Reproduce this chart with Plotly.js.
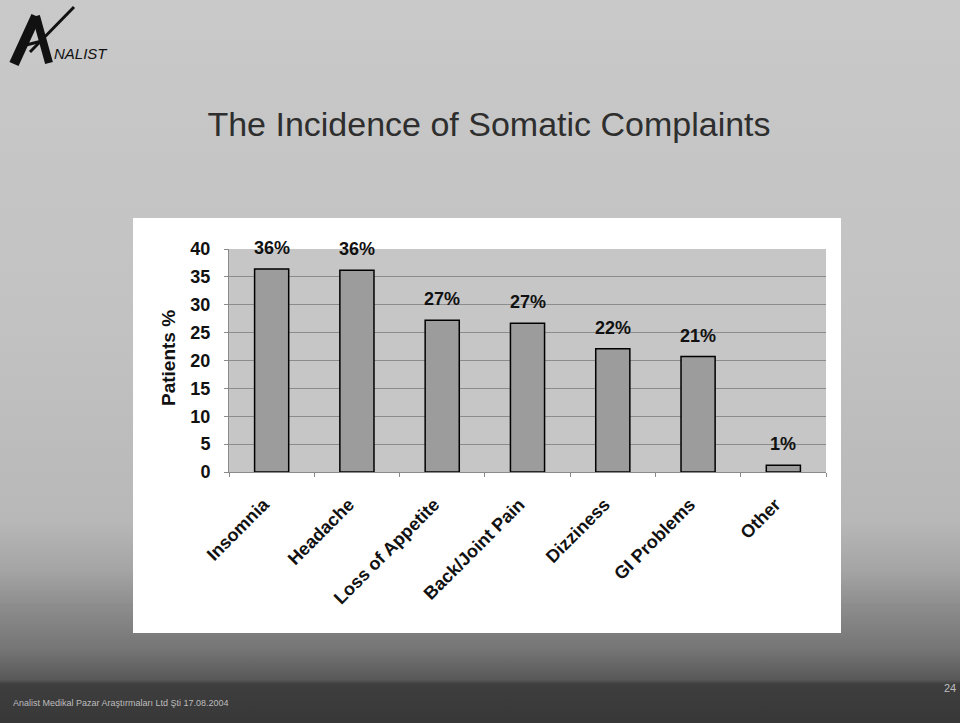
<!DOCTYPE html>
<html>
<head>
<meta charset="utf-8">
<script src="https://cdn.plot.ly/plotly-3.0.1.min.js"></script>
<style>
  html, body { margin: 0; padding: 0; width: 960px; height: 723px; overflow: hidden; }
  body {
    position: relative;
    background: linear-gradient(to bottom,
      #c9c9c9 0%, #c2c2c2 45%, #b8b8b8 72%, #a4a4a4 79%,
      #8c8c8c 84%, #747474 90%, #585858 94%, #3e3e3e 94.6%, #383838 100%);
  }
  #panel { position: absolute; left: 133px; top: 218px; width: 708px; height: 415px; background: #ffffff; }
  #chart { position: absolute; left: 0; top: 0; width: 960px; height: 723px; }
</style>
</head>
<body>
<div id="panel"></div>
<div id="chart"></div>
<script>
// ---- data ----
const categories = ['Insomnia', 'Headache', 'Loss of Appetite', 'Back/Joint Pain', 'Dizziness', 'GI Problems', 'Other'];
const values = [36.4, 36.2, 27.2, 26.7, 22.1, 20.7, 1.2];
const valueLabels = ['36%', '36%', '27%', '27%', '22%', '21%', '1%'];
const yTickValues = [0, 5, 10, 15, 20, 25, 30, 35, 40];
const yTickLabels = ['0', '5', '10', '15', '20', '25', '30', '35', '40'];
const yAxisTitle = 'Patients %';
const chartTitle = 'The Incidence of Somatic Complaints';
const logoText = 'NALIST';
const footerText = 'Analist Medikal Pazar Araştırmaları Ltd Şti 17.08.2004';
const pageNumber = '24';

// ---- layout geometry (pixels) ----
const W = 960, H = 723;
const plotL = 229, plotR = 826, plotT = 249, plotB = 472;
const px = x => (x - plotL) / (plotR - plotL);
const py = y => (plotB - y) / (plotB - plotT);
const FONT = 'Liberation Sans, Arial, sans-serif';

const trace = {
  type: 'bar',
  x: categories,
  y: values,
  marker: { color: '#9c9c9c', line: { color: '#000000', width: 1.5 } },
  hoverinfo: 'x+y'
};

const annotations = categories.map((c, i) => ({
  x: c, y: values[i], xref: 'x', yref: 'y',
  text: valueLabels[i], showarrow: false,
  yanchor: 'bottom', yshift: 9,
  font: { family: FONT, size: 18, color: '#111111', weight: 'bold' }
}));

annotations.push({
  xref: 'paper', yref: 'paper', x: px(168), y: py(358),
  text: '<b>' + yAxisTitle + '</b>', textangle: -90, showarrow: false,
  xanchor: 'center', yanchor: 'middle',
  font: { family: FONT, size: 19, color: '#111111' }
});

// logo text
annotations.push({
  xref: 'paper', yref: 'paper', x: px(52), y: py(64),
  text: '<i>' + logoText + '</i>', showarrow: false,
  xanchor: 'left', yanchor: 'bottom',
  font: { family: FONT, size: 15, color: '#111111' }
});

// footer
annotations.push({
  xref: 'paper', yref: 'paper', x: px(11), y: py(703),
  text: footerText, showarrow: false,
  xanchor: 'left', yanchor: 'middle',
  font: { family: FONT, size: 9, color: '#bdbdbd' }
});
annotations.push({
  xref: 'paper', yref: 'paper', x: px(958), y: py(688),
  text: pageNumber, showarrow: false,
  xanchor: 'right', yanchor: 'middle',
  font: { family: FONT, size: 11, color: '#bdbdbd' }
});

const logoLine = (x0, y0, x1, y1, w) => ({
  type: 'line', xref: 'paper', yref: 'paper',
  x0: px(x0), y0: py(y0), x1: px(x1), y1: py(y1),
  line: { color: '#111111', width: w }
});

const shapes = [
  logoLine(14, 64, 36, 16, 10),
  logoLine(36, 16, 49, 63, 8),
  logoLine(30, 52, 74, 7, 3),
  logoLine(22, 46, 46, 40, 3),
  // thin separator line in lower background
  { type: 'line', xref: 'paper', yref: 'paper', x0: px(0), x1: px(133), y0: py(605), y1: py(605),
    line: { color: '#8a8a8a', width: 1 } },
  { type: 'line', xref: 'paper', yref: 'paper', x0: px(841), x1: px(960), y0: py(605), y1: py(605),
    line: { color: '#8a8a8a', width: 1 } }
];

const layout = {
  width: W, height: H,
  margin: { l: plotL, r: W - plotR, t: plotT, b: H - plotB, pad: 0 },
  paper_bgcolor: 'rgba(0,0,0,0)',
  plot_bgcolor: '#c6c6c6',
  showlegend: false,
  bargap: 0.6,
  title: {
    text: chartTitle,
    x: 489 / W, xref: 'container', xanchor: 'center',
    y: 1 - 124 / H, yref: 'container', yanchor: 'middle',
    font: { family: FONT, size: 34, color: '#2e2e2e' }
  },
  xaxis: {
    type: 'category',
    tickangle: -45,
    tickson: 'boundaries',
    ticks: 'outside', ticklen: 4, tickcolor: '#8a8a8a',
    ticklabelstandoff: 14,
    ticklabelshift: -8,
    showline: true, linecolor: '#8a8a8a', linewidth: 1,
    showgrid: false,
    tickfont: { family: FONT, size: 18, color: '#111111', weight: 'bold' },
    fixedrange: true
  },
  yaxis: {
    range: [0, 40],
    tickmode: 'array', tickvals: yTickValues, ticktext: yTickLabels,
    ticks: 'outside', ticklen: 4, tickcolor: '#8a8a8a',
    ticklabelstandoff: 10,
    showline: true, linecolor: '#8a8a8a', linewidth: 1,
    showgrid: true, gridcolor: '#8c8c8c', gridwidth: 1,
    zeroline: false,
    tickfont: { family: FONT, size: 18, color: '#111111', weight: 'bold' },
    fixedrange: true
  },
  annotations: annotations,
  shapes: shapes
};

Plotly.newPlot('chart', [trace], layout, { displayModeBar: false, staticPlot: true });
</script>
</body>
</html>
